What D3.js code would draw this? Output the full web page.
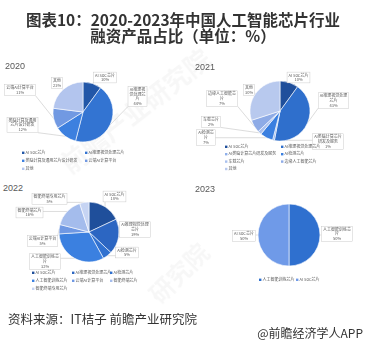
<!DOCTYPE html>
<html><head><meta charset="utf-8">
<script src="https://cdn.jsdelivr.net/npm/d3@7"></script>
<style>html,body{margin:0;padding:0;background:#fff;}svg{display:block;}</style>
</head><body>
<svg id="c" width="366" height="352"></svg>
<script>
// ---------- DATA ----------
const years = ["2020", "2021", "2022", "2023"];
const cats2020 = ["AI SoC芯片", "AI推理视觉处理芯片", "类脑计算及通用芯片设计研发", "云端AI计算平台", "其他"];
const vals2020 = [10, 44, 12, 11, 23];
const cats2021 = ["AI SoC芯片", "AI推理视觉处理芯片", "AI类脑计算芯片研发及服务", "AI检测芯片", "车载芯片", "边缘人工智能芯片", "其他"];
const vals2021 = [10, 43, 1, 7, 2, 7, 30];
const cats2022 = ["AI SoC芯片", "AI推理视觉处理芯片", "AI检测芯片", "人工智能训练芯片", "云端AI计算平台", "智能终端芯片", "智能终端专用芯片"];
const vals2022 = [18, 19, 5, 32, 5, 16, 5];
const cats2023 = ["人工智能训练芯片", "AI SoC芯片"];
const vals2023 = [50, 50];
const titleLines = ["图表10：2020-2023年中国人工智能芯片行业", "融资产品占比（单位：%）"];
const sourceText = "资料来源：IT桔子 前瞻产业研究院";
const brandText = "@前瞻经济学人APP";

// ---------- LAYOUT / STYLE ----------
const FONT = "'Noto Sans CJK SC','Noto Sans',sans-serif";
const panels = [
  { year: years[0], cats: cats2020, vals: vals2020, cx: 83, cy: 112, r: 30, yearPos: [5, 69],
    colors: ["#2257a8", "#3374d2", "#3d80df", "#7199e2", "#b3c5ee"],
    labelOff: [[22, -34.5], [54.5, -15.5], [-60.5, 13], [-63, -22], [-26, -29]],
    labelW: [22, 20, 30, 32, 14],
    legend: { cols: [22, 85], y0: 154, dy: 8, perRow: 2 } },
  { year: years[1], cats: cats2021, vals: vals2021, cx: 280, cy: 111, r: 30, yearPos: [195, 70],
    colors: ["#1f4f9b", "#2f6fcc", "#8fb0ea", "#3a7fe0", "#a9c0ee", "#8eabe6", "#b8c9ee"],
    labelOff: [[18.5, -33.5], [53.5, -10.5], [48, 30.5], [-74, 26.5], [-69, 11], [-58, -12.5], [-31, -21]],
    labelW: [22, 30, 30, 20, 22, 32, 12],
    legend: { cols: [225, 281], y0: 148, dy: 7.4, perRow: 2 } },
  { year: years[2], cats: cats2022, vals: vals2022, cx: 89, cy: 232, r: 30, yearPos: [3, 191],
    colors: ["#1f4f9b", "#2c66c2", "#3071d0", "#3b80e0", "#6f98e3", "#a4bcec", "#c6d4f3"],
    labelOff: [[25.5, -35.5], [46, -2.5], [38, 20.5], [-44, 29.5], [-46.5, 9], [-59.5, -19.5], [-39.5, -33]],
    labelW: [22, 30, 22, 32, 32, 26, 36],
    legend: { cols: [32, 72, 110], y0: 274, dy: 8, perRow: 3 } },
  { year: years[3], cats: cats2023, vals: vals2023, cx: 289, cy: 235, r: 31, yearPos: [195, 192],
    colors: ["#2f70cf", "#6f9ae8"],
    labelOff: [[48, -1], [-45, 1]],
    labelW: [32, 22],
    legend: { cols: [259, 296], y0: 281, dy: 8, perRow: 2 } }
];

const svg = d3.select("#c");
svg.append("rect").attr("width", 366).attr("height", 352).attr("fill", "#fff");

// faint watermarks
const wm = svg.append("g").attr("fill", "#000").attr("opacity", 0.035)
  .attr("font-family", FONT).attr("font-weight", "bold");
wm.append("text").attr("transform", "translate(70,175) rotate(-38)").attr("font-size", 26).text("前瞻产业研究院");
wm.append("text").attr("transform", "translate(160,305) rotate(-45)").attr("font-size", 24).text("研究院");

// title (one text element, two lines)
svg.append("text").attr("text-anchor", "middle").attr("font-family", FONT).attr("font-weight", "bold")
  .attr("font-size", 15.5).attr("fill", "#333")
  .selectAll("tspan").data(titleLines).join("tspan")
  .attr("x", 183).attr("y", (d, i) => 26 + i * 16).text(d => d);

// panels
panels.forEach(p => {
  const g = svg.append("g");
  g.append("text").attr("x", p.yearPos[0]).attr("y", p.yearPos[1])
    .attr("font-family", "'Liberation Sans',Arial,sans-serif").attr("font-size", 9)
    .attr("fill", "#595959").text(p.year);

  const data = p.cats.map((c, i) => ({ name: c, value: p.vals[i], i }));
  const pie = d3.pie().value(d => d.value).sort(null);
  const arcs = pie(data);
  const arc = d3.arc().innerRadius(0).outerRadius(p.r);
  const color = d3.scaleOrdinal().domain(p.cats).range(p.colors);

  const lineG = g.append("g");
  const pg = g.append("g").attr("transform", `translate(${p.cx},${p.cy})`);
  pg.selectAll("path").data(arcs).join("path")
    .attr("d", arc).attr("fill", d => color(d.data.name))
    .attr("stroke", "#fff").attr("stroke-width", 0.6);
  const labG = g.append("g");

  arcs.forEach((a, k) => {
    const mid = (a.startAngle + a.endAngle) / 2;
    const ax = p.cx + Math.sin(mid) * p.r, ay = p.cy - Math.cos(mid) * p.r;
    const bx = p.cx + p.labelOff[k][0], by = p.cy + p.labelOff[k][1];
    const lg = labG.append("g");
    const maxW = p.labelW[k];
    const tmp = lg.append("text").attr("font-family", FONT).attr("font-size", 4);
    const chars = Array.from(a.data.name);
    const lines = [];
    let cur = "";
    chars.forEach(ch => {
      tmp.text(cur + ch);
      if (tmp.node().getComputedTextLength() > maxW - 2 && cur.length) { lines.push(cur); cur = ch; }
      else cur += ch;
    });
    if (cur) lines.push(cur);
    lines.push(a.data.value + "%");
    let w = 0;
    lines.forEach(l => { tmp.text(l); w = Math.max(w, tmp.node().getComputedTextLength()); });
    tmp.remove();
    const bw = w + 3, lh = 4.6, bh = lines.length * lh + 1.6;
    const x0 = bx - bw / 2, y0 = by - bh / 2;
    const nx = Math.max(x0, Math.min(ax, x0 + bw)), ny = Math.max(y0, Math.min(ay, y0 + bh));
    lineG.append("line").attr("x1", ax).attr("y1", ay).attr("x2", nx).attr("y2", ny)
      .attr("stroke", "#a6a6a6").attr("stroke-width", 0.4);
    lg.append("rect").attr("x", x0).attr("y", y0).attr("width", bw).attr("height", bh)
      .attr("fill", "#fff").attr("stroke", "#bfbfbf").attr("stroke-width", 0.4);
    lg.selectAll("text").data(lines).join("text")
      .attr("x", bx).attr("y", (d, i) => y0 + 1 + lh * (i + 0.78))
      .attr("text-anchor", "middle").attr("font-family", FONT).attr("font-size", 4)
      .attr("fill", "#595959").text(d => d);
  });

  const L = p.legend;
  const items = g.append("g").selectAll("g").data(p.cats).join("g")
    .attr("transform", (d, i) => `translate(${L.cols[i % L.perRow]},${L.y0 + Math.floor(i / L.perRow) * L.dy})`);
  items.append("rect").attr("x", 0).attr("y", -2.4).attr("width", 2.4).attr("height", 2.4)
    .attr("fill", d => color(d));
  items.append("text").attr("x", 3.6).attr("y", 0).attr("font-family", FONT).attr("font-size", 4)
    .attr("fill", "#595959").text(d => d);
});

// footer
svg.append("text").attr("x", 8).attr("y", 324).attr("font-family", FONT).attr("font-size", 12.5)
  .attr("fill", "#333").text(sourceText);
svg.append("text").attr("x", 363).attr("y", 338).attr("text-anchor", "end").attr("font-family", FONT)
  .attr("font-size", 12).attr("fill", "#333").text(brandText);
</script>
</body></html>
